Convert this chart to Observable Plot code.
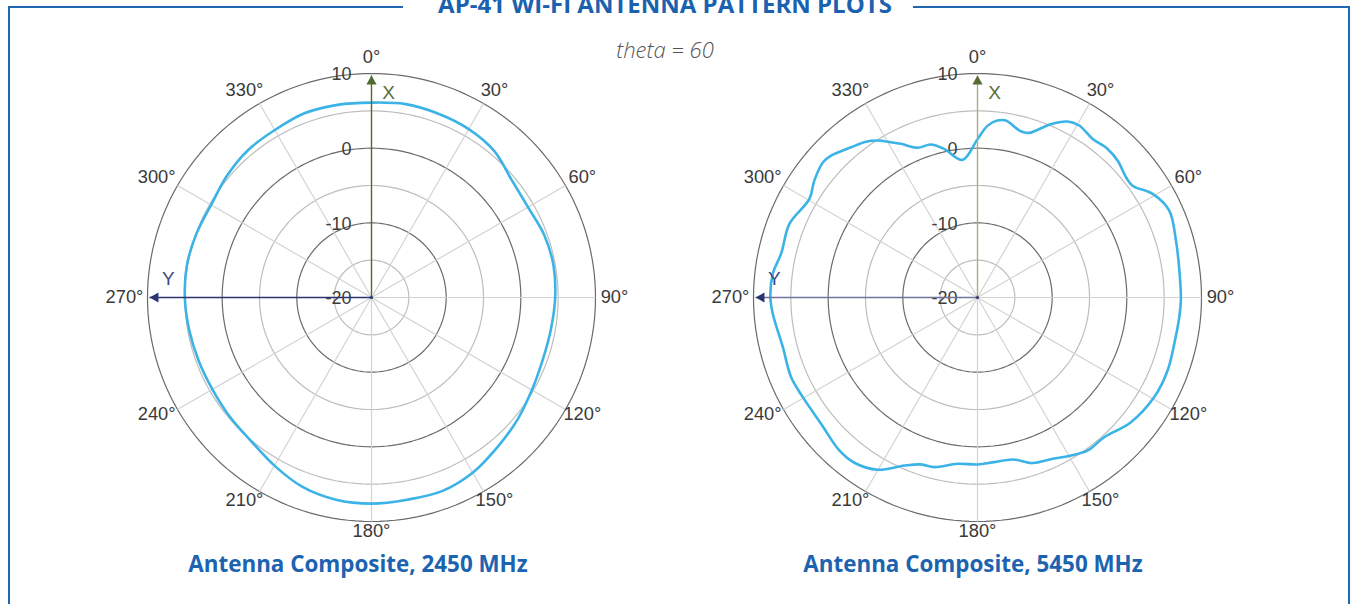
<!DOCTYPE html>
<html>
<head>
<meta charset="utf-8">
<script src="https://cdn.jsdelivr.net/npm/d3@7"></script>
<script src="https://cdn.jsdelivr.net/npm/@observablehq/plot@0.6"></script>
<style>
  body { margin: 0; background: #fff; }
  #page { position: relative; width: 1351px; height: 604px; overflow: hidden; font-family: "Open Sans", sans-serif; }
  #frame { position: absolute; left: 8px; top: 6px; width: 1342px; height: 700px; border: 2px solid #2168b3; box-sizing: border-box; }
  .chart { position: absolute; top: 17px; width: 560px; height: 560px; }
  #title { position: absolute; left: 403px; top: -8px; width: 510px; padding-left: 14px; box-sizing: border-box; background: #fff; text-align: center;
           font: 700 24px/24px "Open Sans", sans-serif; color: #1a62af; white-space: nowrap; }
  #theta { position: absolute; left: 565px; top: 38px; width: 200px; text-align: center; font: italic 300 22px/22px "Open Sans", sans-serif; color: #555; }
  .sub { position: absolute; top: 553px; width: 400px; text-align: center; font: 700 22.4px/22px "Open Sans", sans-serif; color: #1c63b0; white-space: nowrap; }
</style>
</head>
<body>
<div id="page">
  <div id="frame"></div>
  <div id="left" class="chart" style="left:91px"></div>
  <div id="right" class="chart" style="left:697px"></div>
  <div id="title">AP-41 WI-FI ANTENNA PATTERN PLOTS</div>
  <div id="theta">theta = 60</div>
  <div class="sub" style="left:158px">Antenna Composite, 2450 MHz</div>
  <div class="sub" style="left:773px">Antenna Composite, 5450 MHz</div>
</div>
<script>
// ---- radial axis (dB) ----
const rMin = -20;
const rMax = 10;
const majorRings = [-10, 0, 10];
const minorRings = [-15, -5, 5];
const radialTicks = [10, 0, -10, -20];
// ---- angular axis (degrees, clockwise from top) ----
const spokeAngles = [0, 30, 60, 90, 120, 150, 180, 210, 240, 270, 300, 330];

// ---- 2450 MHz composite pattern ----
const angles2450 = [0, 10, 20, 30, 40, 50, 60, 70, 80, 90, 100, 110, 120, 130, 140, 150, 160, 170,
                    180, 190, 200, 210, 220, 230, 240, 250, 260, 270, 280, 290, 300, 310, 320, 330, 340, 350];
const gain2450 = [6.1, 6.3, 6.2, 6.05, 5.6, 4.5, 4.2, 4.6, 4.75, 4.6, 4.4, 4.4, 4.8, 5.5, 6.2, 7.1, 7.6, 7.5,
                  7.6, 7.5, 7.0, 6.0, 5.1, 4.8, 4.6, 4.65, 4.8, 5.0, 5.1, 4.95, 4.8, 5.3, 5.75, 5.9, 6.25, 6.2];

// ---- 5450 MHz composite pattern ----
const angles5450 = [0, 3.4, 6.4, 9.1, 14.6, 17.4, 22.9, 27.1, 30.6, 36, 41.2, 45.7, 51, 54.2, 59.4, 65.6, 74, 81.5,
                    90.4, 95.6, 103.2, 111, 119.4, 129.1, 137.8, 144.2, 149.4, 155, 161.6, 167.7, 174.2, 180,
                    186.8, 194.3, 198.7, 203.5, 210.1, 216.7, 222.1, 231.1, 240.3, 246.9, 255.7, 265.4, 270,
                    276.6, 282.6, 291.4, 300.4, 305.6, 311.2, 314.1, 319.9, 324.4, 327.6, 330.9, 333.5, 338.2,
                    343, 347.3, 353.8];
const gain5450 = [1.2, 3.06, 3.84, 4.0, 3.0, 3.1, 5.2, 6.47, 6.76, 6.25, 6.45, 6.24, 5.6, 5.6, 7.25, 8.2, 7.65, 7.3,
                  7.24, 7.15, 7.07, 7.27, 7.17, 6.48, 5.26, 5.25, 4.58, 3.83, 3.37, 2.2, 2.16, 2.36,
                  2.42, 3.44, 3.6, 4.54, 6.66, 7.6, 7.6, 6.92, 6.93, 7.15, 6.9, 7.5, 7.74,
                  7.6, 6.95, 7.05, 6.1, 6.88, 7.5, 7.3, 6.3, 5.66, 4.9, 3.8, 3.0, 1.6,
                  1.42, 0.4, -1.46];

const lon = a => 180 - a;                 // compass angle -> longitude
const lat = db => 90 - (db - rMin);       // dB -> latitude (distance from pole)
const ring = db => d3.geoCircle().center([0, 90]).radius(db - rMin)();

function polarChart({angles, gains, xLine, xHead, yLine, yHead}) {
  const series = angles.map((a, i) => ({angle: a, gain: gains[i]}));
  const labelLat = 90 - (rMax - rMin) * 240 / 224;
  const tipDb = rMin + (rMax - rMin) * 222 / 224;
  const font = "Liberation Sans, Arial, sans-serif";
  const rad = a => a * Math.PI / 180;
  const angleLabels = spokeAngles.map(a => {
    const s = Math.sin(rad(a)), c = Math.cos(rad(a));
    return Plot.text([a], {
      x: d => lon(d), y: () => labelLat, text: d => `${d}°`,
      dx: s > 0.1 ? 3 : s < -0.1 ? -7 : 0,
      dy: c < 0 ? 6 * c : 0,
      fontSize: 18.3, fontFamily: font, fill: "#3a3a3a"
    });
  });
  return Plot.plot({
    width: 560,
    height: 560,
    margin: 56,
    style: {background: "transparent", overflow: "visible"},
    projection: {
      type: "azimuthal-equidistant",
      rotate: [0, -90],
      clip: false,
      domain: ring(rMax)
    },
    marks: [
      Plot.geo(minorRings, {geometry: ring, stroke: "#bdbdbd", strokeWidth: 1.2, fill: "none"}),
      Plot.geo(majorRings, {geometry: ring, stroke: "#6a6a6a", strokeWidth: 1.2, fill: "none"}),
      Plot.link(spokeAngles.filter(a => a !== 0 && a !== 270), {
        x1: a => lon(a), y1: () => 90, x2: a => lon(a), y2: () => lat(rMax),
        stroke: "#d3d3d3", strokeWidth: 1.2
      }),
      Plot.text(radialTicks, {
        x: () => 180, y: d => lat(d), text: d => String(d),
        textAnchor: "end", dx: -20, dy: 1, fontSize: 18, fontFamily: font, fill: "#3d3d3d"
      }),
      Plot.line(series, {
        x: d => lon(d.angle), y: d => lat(d.gain),
        curve: "catmull-rom-closed", stroke: "#3bb3e6", strokeWidth: 2.6
      }),
      // X axis arrow (0°)
      Plot.link([0], {x1: () => lon(0), y1: () => 90, x2: () => lon(0), y2: () => lat(tipDb), stroke: xLine, strokeWidth: 1.4}),
      Plot.dot([0], {x: () => lon(0), y: () => lat(tipDb), symbol: "triangle", r: 3.8, fill: xHead, stroke: "none", dy: 6}),
      Plot.text(["X"], {x: () => lon(0), y: () => lat(7.45), text: d => d, dx: 17, fontSize: 19, fontFamily: font, fill: "#5b6e3a"}),
      // Y axis arrow (270°)
      Plot.link([0], {x1: () => lon(270), y1: () => 90, x2: () => lon(270), y2: () => lat(tipDb), stroke: yLine, strokeWidth: 1.4}),
      Plot.dot([0], {x: () => lon(270), y: () => lat(tipDb), symbol: "triangle", r: 3.8, rotate: -90, fill: yHead, stroke: "none", dx: 6}),
      Plot.text(["Y"], {x: () => lon(270), y: () => lat(7.2), text: d => d, dy: -19, fontSize: 19, fontFamily: font, fill: "#3d4a80"}),
      Plot.dot([0], {x: () => 0, y: () => 90, r: 1.5, fill: "#2c3570"}),
      ...angleLabels
    ]
  });
}

document.getElementById("left").append(polarChart({
  angles: angles2450, gains: gain2450,
  xLine: "#4f6a2e", xHead: "#4f6a2e", yLine: "#2c3570", yHead: "#2c3570"
}));
document.getElementById("right").append(polarChart({
  angles: angles5450, gains: gain5450,
  xLine: "#a4ae8d", xHead: "#566a35", yLine: "#6f7499", yHead: "#2c3570"
}));
</script>
</body>
</html>
